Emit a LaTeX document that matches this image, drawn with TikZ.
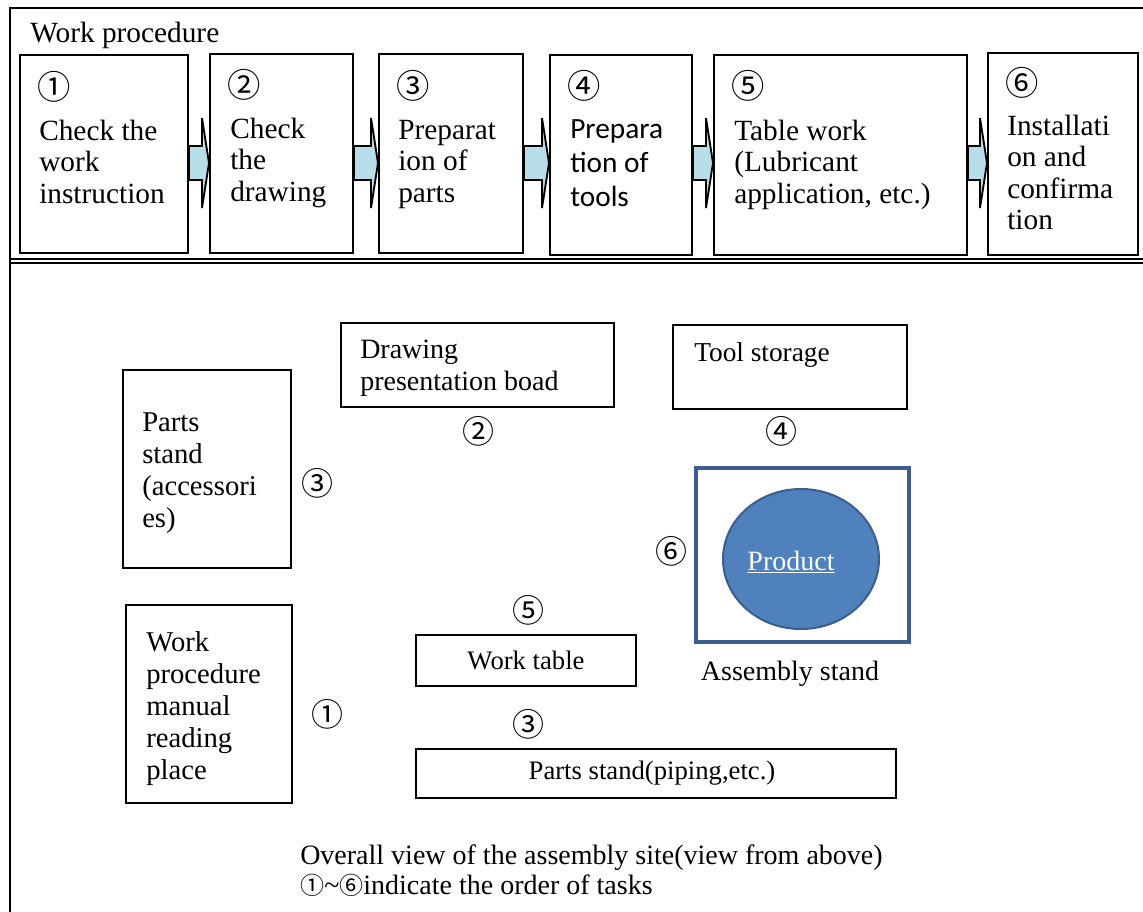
\documentclass[tikz,border=0pt]{standalone}
\usepackage{fontspec}
\setmainfont{Liberation Serif}
\newfontfamily\circfont{Noto Sans CJK JP}
\newfontfamily\uisans{Carlito}
\usetikzlibrary{calc,fit,shapes.geometric}
\definecolor{arrowfill}{HTML}{B7DEE8}
\definecolor{standblue}{HTML}{3A5F8E}
\definecolor{productblue}{HTML}{4F81BD}

\begin{document}
\begin{tikzpicture}[x=0.75pt, y=-0.75pt,
  box/.style={draw, line width=1.5pt, inner sep=0pt},
  boxtext/.style={anchor=north west, align=left, inner sep=0pt, font=\fontsize{22}{23.5}\selectfont},
  placetext/.style={anchor=north west, align=left, inner sep=0pt, font=\fontsize{21.5}{24}\selectfont},
  num/.style={anchor=west, inner sep=0pt, font=\circfont\fontsize{25}{25}\selectfont},
  ordermark/.style={inner sep=0pt, font=\circfont\fontsize{24}{24}\selectfont},
  flow/.style={draw, fill=arrowfill, line width=1.4pt, line join=miter}]

\useasboundingbox (0,0) rectangle (1143,911);

% frame
\draw[line width=2.2pt] (10,930) -- (10,8) -- (1160,8);
\draw[line width=1.3pt] (10,259) -- (1160,259);
\draw[line width=1.3pt] (10,263) -- (1160,263);

\node[anchor=base west, inner sep=0pt, font=\fontsize{22}{24}\selectfont] (title) at (30,42) {Work procedure};

% work procedure steps
\node[box, fit={(20,55) (188,253)}] (s1) {};
\node[box, fit={(210,54) (353,253)}] (s2) {};
\node[box, fit={(379,54) (523,253)}] (s3) {};
\node[box, fit={(550,55) (692,255)}] (s4) {};
\node[box, fit={(714,55) (967,255)}] (s5) {};
\node[box, fit={(988,53) (1138,255)}] (s6) {};

\node[num] (n1) at ($(s1.north west)+(18,33)$) {①};
\node[num] (n2) at ($(s2.north west)+(18,32)$) {②};
\node[num] (n3) at ($(s3.north west)+(18,33)$) {③};
\node[num] (n4) at ($(s4.north west)+(18,32)$) {④};
\node[num] (n5) at ($(s5.north west)+(18,32)$) {⑤};
\node[num] (n6) at ($(s6.north west)+(18,31)$) {⑥};

\node[boxtext] (t1) at ($(s1.north west)+(20,66)$) {Check the\\work\\instruction};
\node[boxtext] (t2) at ($(s2.north west)+(21,65)$) {Check\\the\\drawing};
\node[boxtext] (t3) at ($(s3.north west)+(20,67)$) {Preparat\\ion of\\parts};
\node[boxtext, font=\uisans\fontsize{22}{25.5}\selectfont] (t4) at ($(s4.north west)+(21,65)$) {Prepara\\tion of\\tools};
\node[boxtext] (t5) at ($(s5.north west)+(21,66)$) {Table work\\(Lubricant\\application, etc.)};
\node[boxtext] (t6) at ($(s6.north west)+(20,63)$) {Installati\\on and\\confirma\\tion};

\foreach \a/\b in {s1/s2,s2/s3,s3/s4,s4/s5,s5/s6}{
  \coordinate (p) at (\a.east |- 0,163);
  \coordinate (q) at (\b.west |- 0,163);
  \draw[flow] ($(p)+(0,-17)$) -- ($(q)+(-7,-17)$) -- ($(q)+(-7,-45)$) -- (q)
    -- ($(q)+(-7,45)$) -- ($(q)+(-7,17)$) -- ($(p)+(0,17)$) -- cycle;
}

% site plan
\node[box, fit={(123,370) (291,568)}] (accstand) {};
\node[placetext] (accstandtext) at (142,412) {Parts\\stand\\(accessori\\es)};
\node[box, fit={(126,605) (292,803)}] (manual) {};
\node[placetext] (manualtext) at (146,631) {Work\\procedure\\manual\\reading\\place};
\node[box, fit={(341,323) (614,407)}] (board) {};
\node[placetext, font=\fontsize{21}{23.5}\selectfont] (boardtext) at (360,340) {Drawing\\presentation boad};
\node[box, fit={(673,325) (907,409)}] (tools) {};
\node[placetext, font=\fontsize{20.5}{24}\selectfont] (toolstext) at (694,342) {Tool storage};
\node[box, fit={(416,635) (636,686)}] (table) {};
\node[font=\fontsize{20}{24}\selectfont] (tabletext) at (table.center) {Work table};
\node[box, fit={(416,749) (896,798)}] (pipes) {};
\node[font=\fontsize{20}{24}\selectfont] (pipestext) at ($(pipes.center)+(-4,0)$) {Parts stand(piping,etc.)};

\node[draw=standblue, line width=3pt, inner sep=0pt, fit={(696,468) (909,642)}] (stand) {};
\node[ellipse, draw=standblue, fill=productblue, line width=1.5pt, minimum width=117pt,
  minimum height=105pt, inner sep=0pt] (product) at (801,559) {};
\node[text=white, font=\fontsize{21}{24}\selectfont] (producttext) at ($(product.center)+(-10,3)$) {\underline{Product}};
\node[font=\fontsize{21}{24}\selectfont] (standtext) at (790,674) {Assembly stand};

\node[ordermark] (m1) at (327,714) {①};
\node[ordermark] (m2) at (478,431) {②};
\node[ordermark] (m3a) at (317,483) {③};
\node[ordermark] (m3b) at (528,724) {③};
\node[ordermark] (m4) at (781,431) {④};
\node[ordermark] (m5) at (528,610) {⑤};
\node[ordermark] (m6) at (671,551) {⑥};

\node[anchor=north west, align=left, inner sep=0pt, font=\fontsize{21}{22.5}\selectfont] (note) at (300,845)
  {Overall view of the assembly site(view from above)\\
   {\circfont\fontsize{18}{18}\selectfont ①}\textasciitilde{\circfont\fontsize{18}{18}\selectfont ⑥}indicate the order of tasks};

\end{tikzpicture}
\end{document}
